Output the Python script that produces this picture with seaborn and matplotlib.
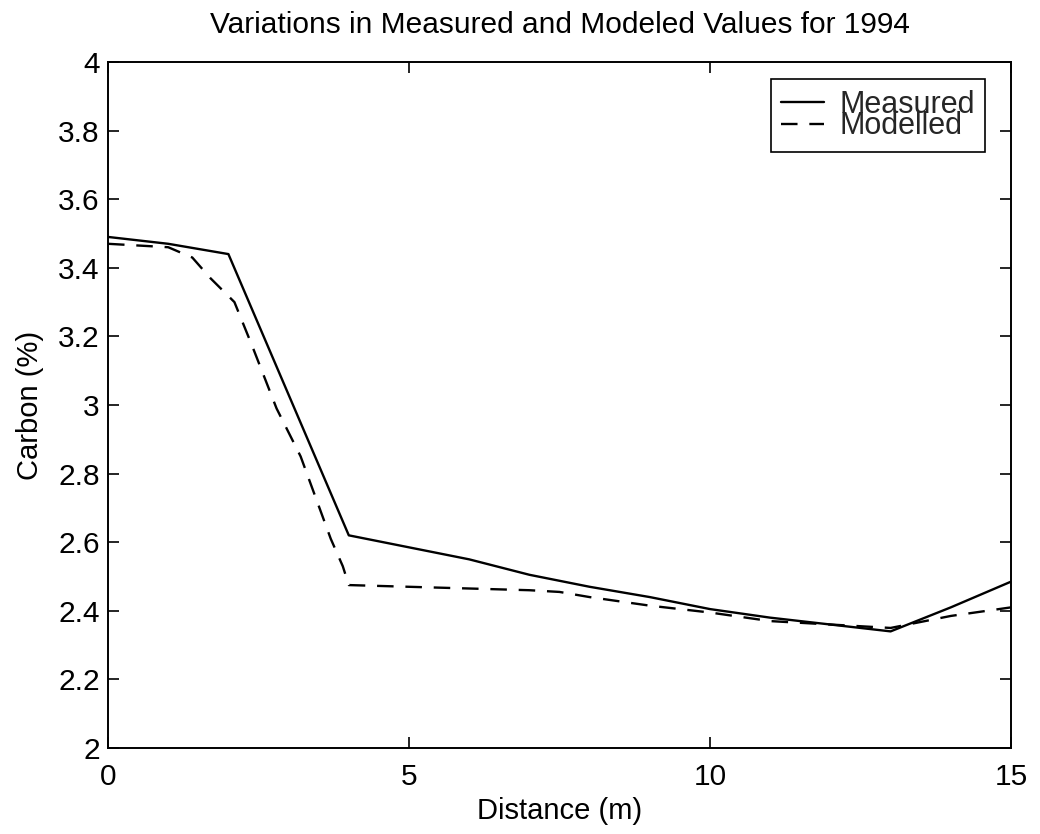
import matplotlib
matplotlib.use("Agg")
import matplotlib.pyplot as plt
from matplotlib.ticker import FormatStrFormatter, FixedLocator
import seaborn as sns
import pandas as pd

# ---- data ----
measured_x = [0, 1, 2, 4, 5, 6, 7, 8, 9, 10, 11, 12, 13, 14, 15]
measured_y = [3.49, 3.47, 3.44, 2.62, 2.585, 2.55, 2.505, 2.47, 2.44, 2.405, 2.38, 2.36, 2.34, 2.41, 2.485]

modelled_x = [0, 1, 1.4, 1.7, 2.1, 2.4, 2.8, 3.2, 3.45, 3.7, 3.9, 4, 5, 6, 7, 7.5, 8, 9, 10, 11, 12, 13, 14, 15]
modelled_y = [3.47, 3.46, 3.43, 3.37, 3.30, 3.17, 2.99, 2.85, 2.73, 2.61, 2.53, 2.475, 2.47, 2.465, 2.46, 2.455,
              2.44, 2.415, 2.395, 2.37, 2.36, 2.35, 2.385, 2.41]

x_ticks = [0, 5, 10, 15]
y_ticks = [2, 2.2, 2.4, 2.6, 2.8, 3, 3.2, 3.4, 3.6, 3.8, 4]

title = "Variations in Measured and Modeled Values for 1994"
xlabel = "Distance (m)"
ylabel = "Carbon (%)"

sns.set_theme(style="white")
plt.rcParams["font.family"] = ["Liberation Sans", "DejaVu Sans"]

fig = plt.figure(figsize=(10.4, 8.34), dpi=100)
ax = fig.add_axes([108 / 1040, 1 - 748 / 834, (1011 - 108) / 1040, (748 - 62) / 834])

df_meas = pd.DataFrame({"x": measured_x, "y": measured_y})
df_mod = pd.DataFrame({"x": modelled_x, "y": modelled_y})

sns.lineplot(data=df_meas, x="x", y="y", ax=ax, color="black", linewidth=1.7,
             label="Measured", estimator=None, sort=False)
sns.lineplot(data=df_mod, x="x", y="y", ax=ax, color="black", linewidth=1.7,
             linestyle=(0, (7.0, 5.0)), label="Modelled", estimator=None, sort=False)

ax.set_xlim(0, 15)
ax.set_ylim(2, 4)
ax.xaxis.set_major_locator(FixedLocator(x_ticks))
ax.yaxis.set_major_locator(FixedLocator(y_ticks))
ax.yaxis.set_major_formatter(FormatStrFormatter("%g"))
ax.xaxis.set_major_formatter(FormatStrFormatter("%g"))

for s in ax.spines.values():
    s.set_visible(True)
    s.set_color("black")
    s.set_linewidth(1.4)

ax.tick_params(axis="both", which="major", direction="in", length=8, width=1.2,
               colors="black", labelsize=21.5, top=True, right=True, bottom=True, left=True)
ax.tick_params(axis="x", pad=11)
ax.tick_params(axis="y", pad=6)

ax.set_xlabel(xlabel, fontsize=21, color="black", labelpad=4)
ax.set_ylabel(ylabel, fontsize=21, color="black", labelpad=10)
ax.set_title(title, fontsize=21.5, color="black", pad=21)

leg = ax.legend(loc="upper right", bbox_to_anchor=(0.9712, 0.975), fontsize=22,
                frameon=True, fancybox=False, edgecolor="black", framealpha=1,
                handlelength=1.4, handletextpad=0.5, labelspacing=-0.27,
                borderpad=0.34, borderaxespad=0.0)
leg.get_frame().set_linewidth(1.2)

fig.savefig("out.png", dpi=100, facecolor="white")
